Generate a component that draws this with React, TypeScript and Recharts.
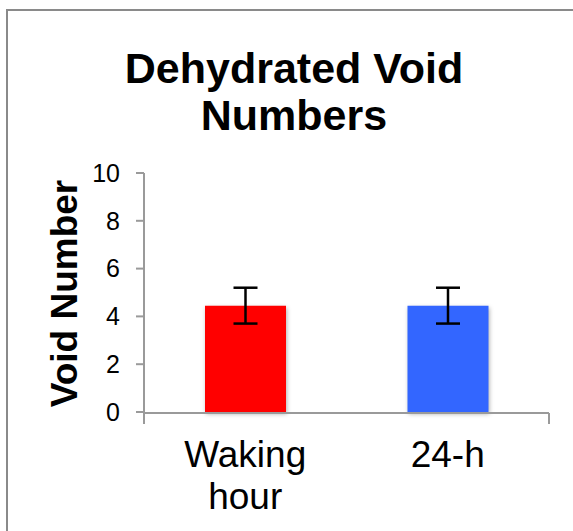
import { BarChart, Bar, XAxis, YAxis, Cell, ErrorBar } from 'recharts'

const categories = ['Waking hour', '24-h']
const values = [4.45, 4.45]
const errors = [0.75, 0.75]
const colors = ['#ff0000', '#3366ff']
const yTicks = [0, 2, 4, 6, 8, 10]
const edgeTicks = [0, 1, 2]
const title = ['Dehydrated Void', 'Numbers']
const yLabel = 'Void Number'

const data = categories.map((name, i) => ({ name, value: values[i], err: errors[i] }))

const FONT = '"Liberation Sans", Arial, sans-serif'
const AXIS = '#9a9a9a'

const CatTick = ({ x, y, payload }: any) => {
  const lines = String(payload.value).split(' ')
  return (
    <text x={x} y={y} textAnchor='middle' fontSize={37} fill='#000' fontFamily={FONT}>
      {lines.map((l, i) => (
        <tspan key={i} x={x} dy={i === 0 ? '0.71em' : 42}>{l}</tspan>
      ))}
    </text>
  )
}

const NoTick = () => <g />

const YTitle = ({ viewBox }: any) => {
  const cx = viewBox.x + viewBox.width - 67
  const cy = viewBox.y + viewBox.height / 2 + 1
  return (
    <text
      x={cx} y={cy} textAnchor='middle' fontSize={37} fontWeight='bold'
      fontFamily={FONT} fill='#000' transform={`rotate(-90 ${cx} ${cy})`}
    >
      {yLabel}
    </text>
  )
}

export default function App() {
  return (
    <div style={{ position: 'absolute', left: 0, top: 0, width: 573, height: 531, background: '#fff', overflow: 'hidden' }}>
      <div style={{
        position: 'absolute', left: 6, top: 9, width: 700, height: 700,
        borderLeft: '2px solid #8a8a8a', borderTop: '2px solid #8a8a8a',
      }} />
      <div style={{
        position: 'absolute', left: 16, top: 45, width: 556, textAlign: 'center',
        fontFamily: FONT, fontWeight: 'bold', fontSize: 43, lineHeight: '47px', color: '#000',
      }}>
        {title.map((t, i) => <div key={i}>{t}</div>)}
      </div>
      <div style={{ position: 'absolute', left: 0, top: 0 }}>
        <BarChart width={573} height={531} data={data} margin={{ top: 173, right: 24, left: 0, bottom: 117 }}>
          <XAxis
            xAxisId='edge' type='number' domain={[0, 2]} ticks={edgeTicks} allowDataOverflow
            height={1} tick={<NoTick />} tickSize={11} interval={0}
            tickLine={{ stroke: AXIS, strokeWidth: 2 }} axisLine={{ stroke: AXIS, strokeWidth: 2 }}
          />
          <XAxis
            xAxisId='cat' dataKey='name' height={1} axisLine={false} tickLine={false}
            tickSize={0} tickMargin={29} tick={<CatTick />} interval={0}
          />
          <YAxis
            domain={[0, 10]} ticks={yTicks} width={144} tickSize={8} tickMargin={16}
            tick={{ fontSize: 25, fill: '#000', fontFamily: FONT }}
            tickLine={{ stroke: AXIS, strokeWidth: 2 }} axisLine={{ stroke: AXIS, strokeWidth: 2 }}
            label={<YTitle />}
          />
          <Bar dataKey='value' xAxisId='cat' barSize={81} isAnimationActive={false}>
            {data.map((_, i) => (
              <Cell key={i} fill={colors[i]} style={{ filter: 'drop-shadow(1px 2px 2px rgba(0,0,0,0.3))' }} />
            ))}
            <ErrorBar dataKey='err' direction='y' width={12} stroke='#000' strokeWidth={2.5} isAnimationActive={false} />
          </Bar>
        </BarChart>
      </div>
    </div>
  )
}
